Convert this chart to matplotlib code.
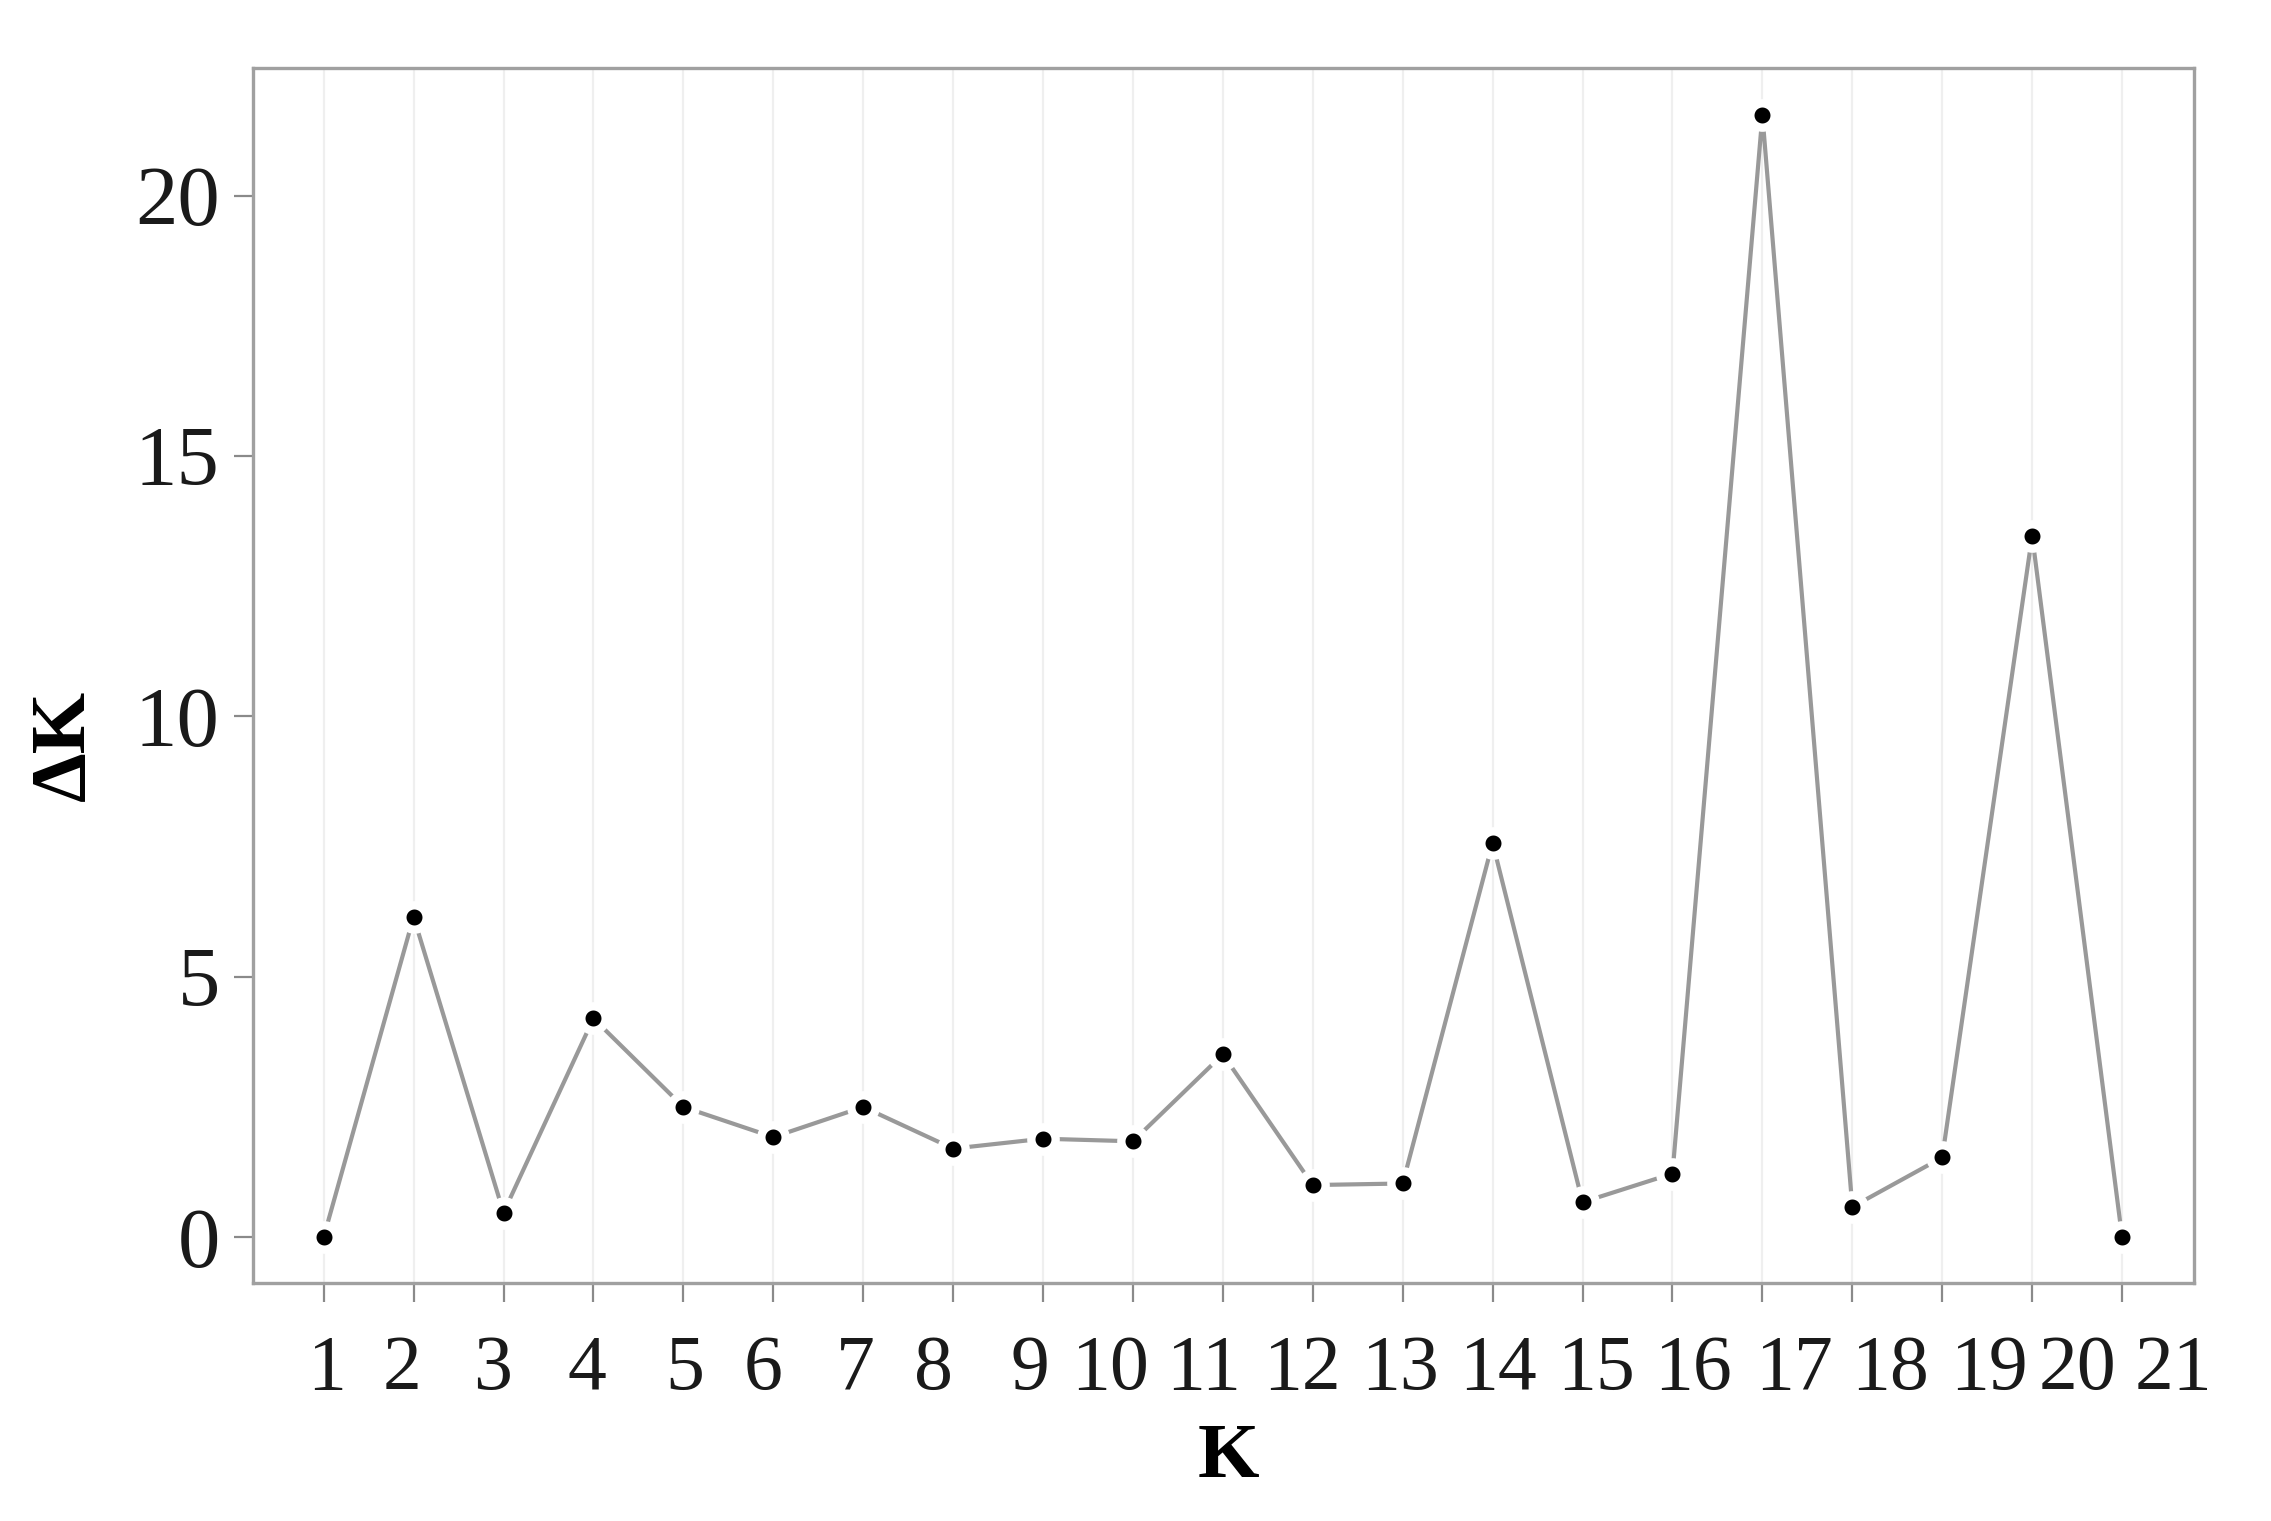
import numpy as np
import matplotlib
matplotlib.use('Agg')
import matplotlib.pyplot as plt
import matplotlib.transforms as mtransforms

plt.rcParams['font.family'] = ['Liberation Serif', 'DejaVu Serif']

# data
k_values = list(range(1, 22))
delta_k = [0.0, 6.15, 0.47, 4.20, 2.50, 1.92, 2.50, 1.70, 1.89, 1.84, 3.51,
           1.00, 1.03, 7.57, 0.67, 1.22, 21.54, 0.58, 1.53, 13.47, 0.0]
tick_labels = [str(k) for k in range(1, 22)]
# the K labels sit a bit off their ticks in the original
label_x = [1.03, 1.87, 2.88, 3.93, 5.01, 5.89, 6.91, 7.78, 8.85, 9.75, 10.79,
           11.88, 12.97, 14.06, 15.15, 16.23, 17.35, 18.42, 19.52, 20.50, 21.57]
y_ticks = [0, 5, 10, 15, 20]

fig = plt.figure(figsize=(22.71, 15.21), dpi=100)
ax = fig.add_axes([0.1114, 0.1565, 0.9661 - 0.1114, 0.9553 - 0.1565])

for k in k_values:
    ax.axvline(k, color='#efefef', lw=1.6, zorder=0)

ax.plot(k_values, delta_k, color='#999999', lw=3.0, marker='o',
        markersize=17.5, markerfacecolor='black', markeredgecolor='white',
        markeredgewidth=6, zorder=3)

ax.set_xlim(0.214, 21.80)
ax.set_ylim(-0.88, 22.45)

ax.set_xticks(k_values)
ax.set_xticklabels([''] * len(k_values))
ax.set_yticks(y_ticks)
ax.set_yticklabels([str(v) for v in y_ticks])

ax.tick_params(axis='both', direction='out', length=14, width=1.6,
               color='#8a8a8a', labelcolor='#1a1a1a')
ax.tick_params(axis='y', pad=10, labelsize=61)

for s in ax.spines.values():
    s.set_color('#a0a0a0')
    s.set_linewidth(2.4)

trans = mtransforms.blended_transform_factory(ax.transData, ax.transAxes)
for x, lab in zip(label_x, tick_labels):
    ax.text(x, -0.0872, lab, transform=trans, ha='center', va='baseline',
            fontsize=56, color='#1a1a1a')

fig.text(0.5407, 0.029, 'K', ha='center', va='baseline', fontsize=57,
         fontweight='bold', color='black')
fig.text(0.029, 0.51, 'ΔK', ha='center', va='center', rotation=90,
         fontsize=57, fontweight='bold', color='black')

fig.savefig('out.png', dpi=100, facecolor='white')
